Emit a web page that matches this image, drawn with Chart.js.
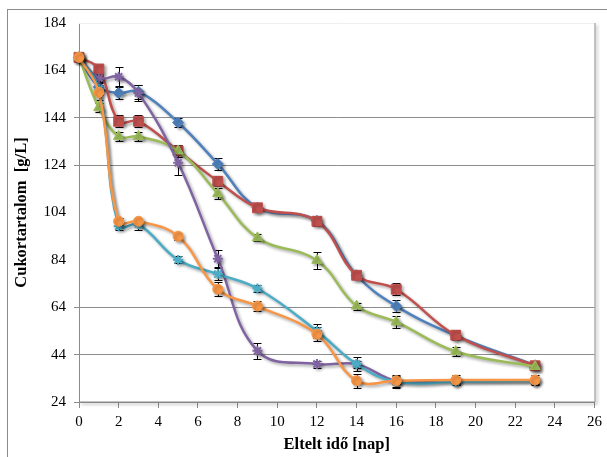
<!DOCTYPE html>
<html>
<head>
<meta charset="utf-8">
<script src="https://cdn.jsdelivr.net/npm/chart.js@4/dist/chart.umd.min.js"></script>
<style>
  body { margin: 0; background: #fff; }
  .frame { position: absolute; left: 7px; top: 9px; width: 620px; height: 470px;
           border-left: 1px solid #8c8c8c; border-top: 1px solid #8c8c8c; }
  .wrap { position: absolute; left: 0; top: 0; width: 607px; height: 457px; }
</style>
</head>
<body>
<div class="frame"></div>
<div class="wrap"><canvas id="myChart" width="607" height="457"></canvas></div>
<script>
// sampling days
const days = [0, 1, 2, 3, 5, 7, 9, 12, 14, 16, 19, 23];

// sugar content, g/L
const blueVals   = [169.5, 157, 154.5, 155, 142, 124.5, 106, 100.5, 77.5, 64.5, 52, 39.5];
const redVals    = [169.5, 164.6, 142.5, 142.5, 130, 117.2, 106, 100.3, 77.5, 71.6, 52.2, 39.3];
const greenVals  = [169.5, 148.3, 136.1, 136.1, 130, 112, 93.3, 83.8, 64.5, 57.8, 45.3, 39];
const purpleVals = [169.5, 160.7, 161.3, 154.4, 125, 84.5, 45.6, 40, 40, 33, 33, 33];
const cyanVals   = [169.5, 156, 98.2, 99, 84, 78, 71.9, 54, 40, 32.5, 32.5, 33];
const orangeVals = [169.5, 154.7, 100.3, 100.3, 94, 71.6, 64.5, 52.6, 33, 33, 33.3, 33.3];

// standard deviations
const blueErr   = [0, 2.5, 2.5, 3, 2, 2.5, 1.5, 2, 1.5, 2.5, 1.5, 2];
const redErr    = [0, 2, 2.5, 2.5, 2.5, 2, 1.5, 2, 1.5, 2.5, 2, 2];
const greenErr  = [0, 2, 2, 2, 2.5, 2.5, 1.5, 3.5, 1.5, 2.5, 2, 1.5];
const purpleErr = [0, 1.5, 4, 3.5, 5, 3.5, 3.5, 1.5, 1.5, 1.5, 1.5, 1.5];
const cyanErr   = [0, 2.5, 1.5, 2.5, 1.5, 2.5, 1.5, 3, 3, 2.5, 1.5, 1.5];
const orangeErr = [0, 3, 1.5, 1.5, 1.5, 3, 2, 3, 3, 2.5, 2, 2];

const yTicks = [24, 44, 64, 84, 104, 124, 144, 164, 184];
const hiddenGrid = [84, 104, 164, 184];

function series(vals, err, color, shape, radius, order) {
  return {
    data: days.map((d, i) => ({ x: d, y: vals[i] })),
    errors: err,
    borderColor: color,
    backgroundColor: color,
    pointBackgroundColor: color,
    pointBorderColor: color,
    pointStyle: shape,
    pointRadius: radius,
    pointBorderWidth: shape === 'star' ? 2 : 1,
    borderWidth: 2.5,
    tension: 0.4,
    clip: false,
    order: order
  };
}

const shadowPlugin = {
  id: 'shadow',
  beforeDatasetDraw(chart) {
    const ctx = chart.ctx;
    ctx.save();
    ctx.shadowColor = 'rgba(0,0,0,0.35)';
    ctx.shadowBlur = 3;
    ctx.shadowOffsetX = 2;
    ctx.shadowOffsetY = 2;
  },
  afterDatasetDraw(chart) {
    chart.ctx.restore();
  }
};

const framePlugin = {
  id: 'frame',
  beforeDatasetsDraw(chart) {
    const { ctx, chartArea: a } = chart;
    ctx.save();
    ctx.strokeStyle = '#eeeeee';
    ctx.lineWidth = 1;
    ctx.beginPath();
    ctx.moveTo(a.left, a.top + 0.5);
    ctx.lineTo(a.right, a.top + 0.5);
    ctx.stroke();
    ctx.shadowColor = 'rgba(0,0,0,0.4)';
    ctx.shadowBlur = 3;
    ctx.shadowOffsetX = 2;
    ctx.shadowOffsetY = 2;
    ctx.strokeStyle = '#8c8c8c';
    ctx.beginPath();
    ctx.moveTo(a.right + 0.5, a.top);
    ctx.lineTo(a.right + 0.5, a.bottom);
    ctx.lineTo(a.left, a.bottom);
    ctx.stroke();
    ctx.restore();
  }
};

// error bars go under the lines and markers
const errorBarPlugin = {
  id: 'errorBars',
  beforeDatasetsDraw(chart) {
    const ctx = chart.ctx;
    const xs = chart.scales.x, ys = chart.scales.y;
    ctx.save();
    ctx.strokeStyle = '#000';
    ctx.lineWidth = 1;
    chart.data.datasets.forEach(ds => {
      ds.data.forEach((p, i) => {
        const e = ds.errors[i];
        if (!e) return;
        const x = Math.round(xs.getPixelForValue(p.x)) + 0.5;
        const y1 = Math.round(ys.getPixelForValue(p.y + e)) + 0.5;
        const y2 = Math.round(ys.getPixelForValue(p.y - e)) + 0.5;
        ctx.beginPath();
        ctx.moveTo(x, y1); ctx.lineTo(x, y2);
        ctx.moveTo(x - 4, y1); ctx.lineTo(x + 4, y1);
        ctx.moveTo(x - 4, y2); ctx.lineTo(x + 4, y2);
        ctx.stroke();
      });
    });
    ctx.restore();
  }
};

const tickFont = { family: '"Liberation Serif", "Times New Roman", serif', size: 15 };
const titleFont = { family: '"Liberation Serif", "Times New Roman", serif', size: 16.5, weight: 'bold' };

new Chart(document.getElementById('myChart'), {
  type: 'line',
  data: {
    datasets: [
      series(blueVals, blueErr, '#4F81BD', 'rectRot', 5.5, 6),
      series(redVals, redErr, '#C0504D', 'rect', 7, 5),
      series(greenVals, greenErr, '#9BBB59', 'triangle', 6, 4),
      series(purpleVals, purpleErr, '#8064A2', 'star', 5, 3),
      series(cyanVals, cyanErr, '#4BACC6', 'star', 5, 2),
      series(orangeVals, orangeErr, '#F79646', 'circle', 5, 1)
    ]
  },
  options: {
    responsive: false,
    animation: false,
    layout: { padding: { left: 0, top: 23, right: 10, bottom: 0 } },
    plugins: { legend: { display: false }, tooltip: { enabled: false } },
    scales: {
      x: {
        type: 'linear',
        min: 0,
        max: 26,
        afterFit(scale) { scale.height = 55; },
        ticks: { stepSize: 2, color: '#000', font: tickFont, padding: 5, maxRotation: 0 },
        grid: { drawOnChartArea: false, tickLength: 6, tickColor: '#8c8c8c' },
        border: { color: '#8c8c8c' },
        title: { display: true, text: 'Eltelt idő [nap]', color: '#000', font: titleFont,
                 padding: { top: 0, bottom: 2 } }
      },
      y: {
        min: 24,
        max: 184,
        afterFit(scale) { scale.width = 79; },
        afterBuildTicks(scale) { scale.ticks = yTicks.map(v => ({ value: v })); },
        ticks: { color: '#000', font: tickFont, padding: 8 },
        grid: {
          tickLength: 5,
          color: c => hiddenGrid.includes(c.tick.value) ? 'rgba(0,0,0,0)' : '#8c8c8c',
          tickColor: c => hiddenGrid.includes(c.tick.value) ? 'rgba(0,0,0,0)' : '#8c8c8c'
        },
        border: { color: '#8c8c8c' },
        title: { display: true, text: 'Cukortartalom  [g/L]', color: '#000', font: titleFont,
                 padding: { top: 12, bottom: 0 } }
      }
    }
  },
  plugins: [shadowPlugin, framePlugin, errorBarPlugin]
});
</script>
</body>
</html>
